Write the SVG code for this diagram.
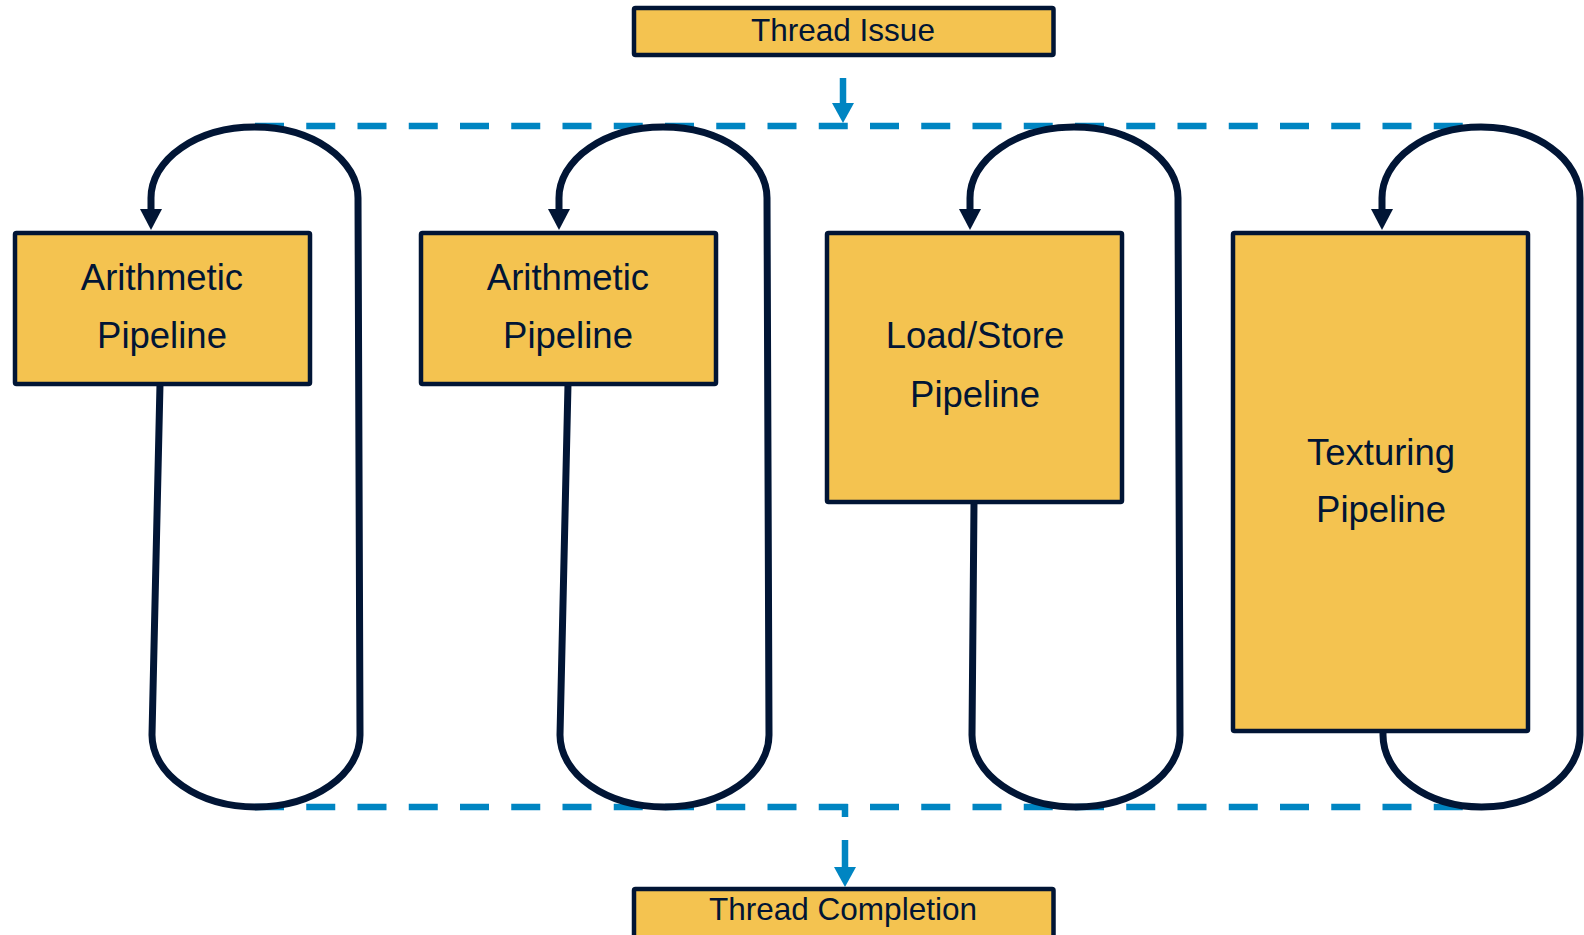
<svg xmlns="http://www.w3.org/2000/svg" width="1584" height="935" viewBox="0 0 1584 935">
  <style>
    .box { fill: #F4C350; stroke: #011535; stroke-width: 4.5; }
    .lbl { font-family: "Liberation Sans", Arial, sans-serif; font-size: 36.5px; fill: #011535; text-anchor: middle; }
    .ttl { font-family: "Liberation Sans", Arial, sans-serif; font-size: 31.5px; fill: #011535; text-anchor: middle; }
    .loop { fill: none; stroke: #011535; stroke-width: 7; marker-end: url(#darkHead); }
    .dash { fill: none; stroke: #0085C2; stroke-width: 6.5; stroke-dasharray: 29 22.25; }
    .blue { fill: none; stroke: #0085C2; stroke-width: 6.5; marker-end: url(#blueHead); }
  </style>
  <defs>
    <marker id="darkHead" markerUnits="userSpaceOnUse" viewBox="0 0 21 22" refX="0" refY="11" markerWidth="21" markerHeight="22" orient="auto">
      <path d="M0,0 L21,11 L0,22 z" fill="#011535"/>
    </marker>
    <marker id="blueHead" markerUnits="userSpaceOnUse" viewBox="0 0 20 22" refX="0" refY="11" markerWidth="20" markerHeight="22" orient="auto">
      <path d="M0,0 L20,11 L0,22 z" fill="#0085C2"/>
    </marker>
  </defs>

  <g id="connectors">
    <path class="dash" d="M255,126 H1482"/>
    <path class="dash" d="M255,807 H1482"/>
    <path class="blue" d="M843,78 V103"/>
    <path fill="none" stroke="#0085C2" stroke-width="6.5" d="M845,804 V817"/>
    <path class="blue" d="M845,840 V867"/>
    <path class="loop" d="M160,384 L152,735 A104,72 0 0 0 360,735 L358,198 A103.5,71 0 0 0 151,198 L151,209"/>
    <path class="loop" d="M568,384 L560,735 A104.5,72 0 0 0 769,735 L767,198 A104,71 0 0 0 559,198 L559,209"/>
    <path class="loop" d="M974,502 L972,735 A104,72 0 0 0 1180,735 L1178,198 A104,71 0 0 0 970,198 L970,209"/>
    <path class="loop" d="M1383,731 L1383,735 A98.5,72 0 0 0 1580,735 L1580,198 A99,71 0 0 0 1382,198 L1382,209"/>
  </g>

  <g id="thread-issue">
    <rect class="box" x="634" y="8" width="419.5" height="47" rx="1.5"/>
    <text class="ttl" x="843" y="41">Thread Issue</text>
  </g>
  <g id="arith1">
    <rect class="box" x="15" y="233" width="295" height="151" rx="1.5"/>
    <text class="lbl" x="162" y="290">Arithmetic</text>
    <text class="lbl" x="162" y="348">Pipeline</text>
  </g>
  <g id="arith2">
    <rect class="box" x="421" y="233" width="295" height="151" rx="1.5"/>
    <text class="lbl" x="568" y="290">Arithmetic</text>
    <text class="lbl" x="568" y="348">Pipeline</text>
  </g>
  <g id="loadstore">
    <rect class="box" x="827" y="233" width="295" height="269" rx="1.5"/>
    <text class="lbl" x="975" y="348">Load/Store</text>
    <text class="lbl" x="975" y="407">Pipeline</text>
  </g>
  <g id="texturing">
    <rect class="box" x="1233" y="233" width="295" height="498" rx="1.5"/>
    <text class="lbl" x="1381" y="465">Texturing</text>
    <text class="lbl" x="1381" y="522">Pipeline</text>
  </g>
  <g id="thread-completion">
    <rect class="box" x="634" y="889" width="419.5" height="52" rx="1.5"/>
    <text class="ttl" x="843" y="920">Thread Completion</text>
  </g>
</svg>
